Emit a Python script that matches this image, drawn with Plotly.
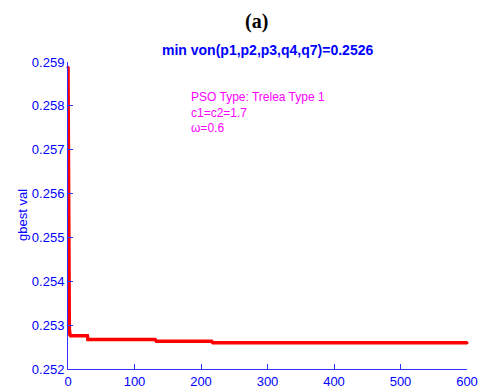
import plotly.graph_objects as go

iterations = [0, 0.6, 2, 3, 4, 29, 30, 131, 133, 216, 218, 600]
gbest_vals = [0.25888, 0.25387, 0.25291, 0.25278, 0.25276, 0.25276, 0.25267, 0.25267, 0.25263, 0.25263, 0.25260, 0.25260]
y_ticks = [0.252, 0.253, 0.254, 0.255, 0.256, 0.257, 0.258, 0.259]
x_ticks = [0, 100, 200, 300, 400, 500, 600]

BLUE = "#0000ff"
AXC = "#3333ff"
font_main = "Liberation Sans"

fig = go.Figure()
fig.add_trace(go.Scatter(
    x=iterations, y=gbest_vals, mode="lines+markers",
    line=dict(color="#ff0000", width=3.5),
    marker=dict(color="#ff0000", size=3),
    showlegend=False, cliponaxis=False,
))

fig.update_layout(
    width=481, height=392,
    margin=dict(l=68, r=14, t=62, b=23),
    paper_bgcolor="white", plot_bgcolor="white",
    font=dict(family=font_main, color=BLUE, size=13),
)
fig.update_xaxes(
    range=[0, 600], tickvals=x_ticks, showline=True, linecolor=AXC, linewidth=1,
    ticks="inside", ticklen=5, tickcolor=AXC, showgrid=False, zeroline=False,
    tickfont=dict(color=BLUE, size=13, family=font_main), automargin=False,
)
fig.update_yaxes(
    range=[0.252, 0.259], tickvals=y_ticks, tickformat=".3f", showline=True,
    linecolor=AXC, linewidth=1, ticks="inside", ticklen=5, tickcolor=AXC,
    showgrid=False, zeroline=False,
    tickfont=dict(color=BLUE, size=13, family=font_main), automargin=False,
)

fig.add_annotation(text="<b>(a)</b>", xref="paper", yref="paper",
                   x=(256 - 68) / 399, y=1 + (62 - 22) / 307, showarrow=False,
                   font=dict(family="Times New Roman", size=20, color="black"),
                   xanchor="center", yanchor="middle")
fig.add_annotation(text="<b>min von(p1,p2,p3,q4,q7)=0.2526</b>", xref="paper", yref="paper",
                   x=(267 - 68) / 399, y=1 + (62 - 50.5) / 307, showarrow=False,
                   font=dict(family=font_main, size=14, color=BLUE),
                   xanchor="center", yanchor="middle")
fig.add_annotation(text="gbest val", xref="paper", yref="paper",
                   x=(22 - 68) / 399, y=(369 - 215) / 307, showarrow=False, textangle=-90,
                   font=dict(family=font_main, size=13, color=BLUE),
                   xanchor="center", yanchor="middle")
fig.add_annotation(text="PSO Type: Trelea Type 1<br>c1=c2=1.7<br>ω=0.6", xref="paper", yref="paper",
                   x=(189 - 68) / 399, y=(369 - 88) / 307, showarrow=False, align="left",
                   font=dict(family=font_main, size=12, color="#ff00ff"),
                   xanchor="left", yanchor="top")

fig.write_html("out.html")
